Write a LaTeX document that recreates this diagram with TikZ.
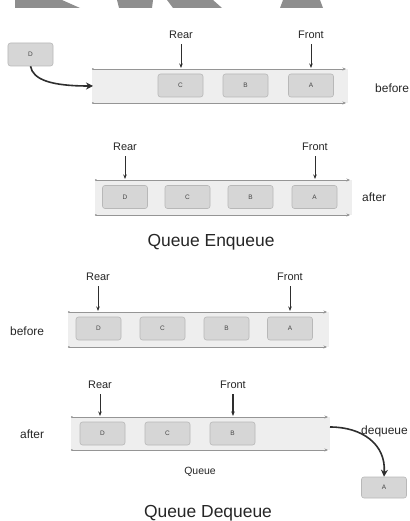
\documentclass[tikz,border=0pt]{standalone}
\usepackage{fontspec}
\setmainfont{Liberation Sans}
\usetikzlibrary{arrows.meta}
\definecolor{boxfill}{HTML}{D6D6D6}
\definecolor{boxline}{HTML}{B8B8B8}
\definecolor{itemtext}{HTML}{444444}
\definecolor{bandfill}{HTML}{EEEEEE}
\definecolor{railgray}{HTML}{959595}
\definecolor{darkink}{HTML}{2E2E2E}
\definecolor{labelink}{HTML}{262626}
\definecolor{markgray}{HTML}{8E8E8E}
\begin{document}
\begin{tikzpicture}[x=1bp,y=-1bp,
  item/.style={draw=boxline, fill=boxfill, rounded corners=2.5bp,
    minimum width=45bp, minimum height=23bp, inner sep=0pt,
    line width=0.6bp, text=itemtext, font=\fontsize{6.5}{7}\selectfont},
  ptr/.style={inner sep=0pt, text=labelink, font=\fontsize{11}{13}\selectfont},
  side/.style={inner sep=0pt, text=labelink, font=\fontsize{12}{14}\selectfont},
  title/.style={inner sep=0pt, text=labelink, font=\fontsize{17.5}{20}\selectfont},
  ptrarrow/.style={draw=darkink, line width=0.8bp, -{Stealth[length=4.5bp,width=3.5bp]}},
  rail/.style={draw=railgray, line width=0.8bp, {Circle[length=1.6bp]}-{Stealth[length=3.5bp,width=3bp]}},
  move/.style={draw=darkink, line width=1.6bp, -{Stealth[length=7bp,width=7bp]}},
]
\useasboundingbox (0,0) rectangle (409,521);

% logo fragments along the top edge
\fill[markgray] (15,0) -- (62,0) -- (80,8) -- (15,8) -- cycle;
\fill[markgray] (117,0) -- (153,0) -- (152,8) -- (119,8) -- cycle;
\fill[markgray] (167,0) -- (213,0) -- (222,8) -- (173,8) -- cycle;
\fill[markgray] (283,0) -- (320,0) -- (323,8) -- (280,8) -- cycle;

% ---------------- enqueue: before ----------------
\fill[bandfill] (92,69) rectangle (348,103);
\coordinate (e1tl) at (92,69);  \coordinate (e1tr) at (346,69);
\coordinate (e1bl) at (92,103); \coordinate (e1br) at (346,103);
\draw[rail] (e1tl) -- (e1tr);
\draw[rail] (e1bl) -- (e1br);
\node[item] (e1c) at (180.5,85.5) {C};
\node[item] (e1b) at (245.5,85.5) {B};
\node[item] (e1a) at (311,85.5) {A};
\node[item] (e1d) at (30.5,54.5) {D};
\coordinate (e1in) at (93,86);
\draw[move] (e1d.south) .. controls (33,80) and (52,86) .. (e1in);
\node[ptr] (e1rear) at (181,35) {Rear};
\node[ptr] (e1front) at (311,35) {Front};
\coordinate (e1rt) at (181,68);
\coordinate (e1ft) at (311,68);
\draw[ptrarrow] ([yshift=-5bp]e1rear.south) -- (e1rt);
\draw[ptrarrow] ([yshift=-5bp]e1front.south) -- (e1ft);
\node[side, anchor=west] (e1lbl) at (375,88) {before};

% ---------------- enqueue: after ----------------
\fill[bandfill] (95,180) rectangle (352,215);
\coordinate (e2tl) at (95,180);  \coordinate (e2tr) at (350,180);
\coordinate (e2bl) at (95,215);  \coordinate (e2br) at (350,215);
\draw[rail] (e2tl) -- (e2tr);
\draw[rail] (e2bl) -- (e2br);
\node[item] (e2d) at (125,197) {D};
\node[item] (e2c) at (187.5,197) {C};
\node[item] (e2b) at (250.5,197) {B};
\node[item] (e2a) at (314.5,197) {A};
\node[ptr] (e2rear) at (125,147) {Rear};
\node[ptr] (e2front) at (315,147) {Front};
\coordinate (e2rt) at (125,179);
\coordinate (e2ft) at (315,179);
\draw[ptrarrow] ([yshift=-5bp]e2rear.south) -- (e2rt);
\draw[ptrarrow] ([yshift=-5bp]e2front.south) -- (e2ft);
\node[side, anchor=west] (e2lbl) at (362,197) {after};
\node[title] (enqtitle) at (211,242) {Queue Enqueue};

% ---------------- dequeue: before ----------------
\fill[bandfill] (68,312) rectangle (329,347);
\coordinate (d1tl) at (68,312);  \coordinate (d1tr) at (327,312);
\coordinate (d1bl) at (68,347);  \coordinate (d1br) at (327,347);
\draw[rail] (d1tl) -- (d1tr);
\draw[rail] (d1bl) -- (d1br);
\node[item] (d1d) at (98.5,328.5) {D};
\node[item] (d1c) at (162.5,328.5) {C};
\node[item] (d1b) at (226.5,328.5) {B};
\node[item] (d1a) at (290,328.5) {A};
\node[ptr] (d1rear) at (98,277) {Rear};
\node[ptr] (d1front) at (290,277) {Front};
\coordinate (d1rt) at (98,311);
\coordinate (d1ft) at (290,311);
\draw[ptrarrow] ([yshift=-5bp]d1rear.south) -- (d1rt);
\draw[ptrarrow] ([yshift=-5bp]d1front.south) -- (d1ft);
\node[side, anchor=west] (d1lbl) at (10,331) {before};

% ---------------- dequeue: after ----------------
\fill[bandfill] (71,417) rectangle (330,450);
\coordinate (d2tl) at (71,417);  \coordinate (d2tr) at (328,417);
\coordinate (d2bl) at (71,450);  \coordinate (d2br) at (328,450);
\draw[rail] (d2tl) -- (d2tr);
\draw[rail] (d2bl) -- (d2br);
\node[item] (d2d) at (102.5,433.5) {D};
\node[item] (d2c) at (167.5,433.5) {C};
\node[item] (d2b) at (232.5,433.5) {B};
\node[ptr] (d2rear) at (100,385) {Rear};
\node[ptr] (d2front) at (233,385) {Front};
\coordinate (d2rt) at (100,416);
\coordinate (d2ft) at (233,416);
\draw[ptrarrow] ([yshift=-5bp]d2rear.south) -- (d2rt);
\draw[ptrarrow, line width=1.2bp] ([yshift=-5bp]d2front.south) -- (d2ft);
\node[side, anchor=west] (d2lbl) at (20,434) {after};
\node[side, anchor=west] (deqlbl) at (361,431) {dequeue};
\node[item, minimum height=21bp] (d2out) at (384,487.5) {A};
\coordinate (d2exit) at (330,427);
\draw[move] (d2exit) .. controls (362,427) and (386,444) .. (d2out.north);
\node[inner sep=0pt, text=labelink, font=\fontsize{10.5}{12}\selectfont] (qlbl) at (200,472) {Queue};
\node[title] (deqtitle) at (208,513) {Queue Dequeue};
\end{tikzpicture}
\end{document}
